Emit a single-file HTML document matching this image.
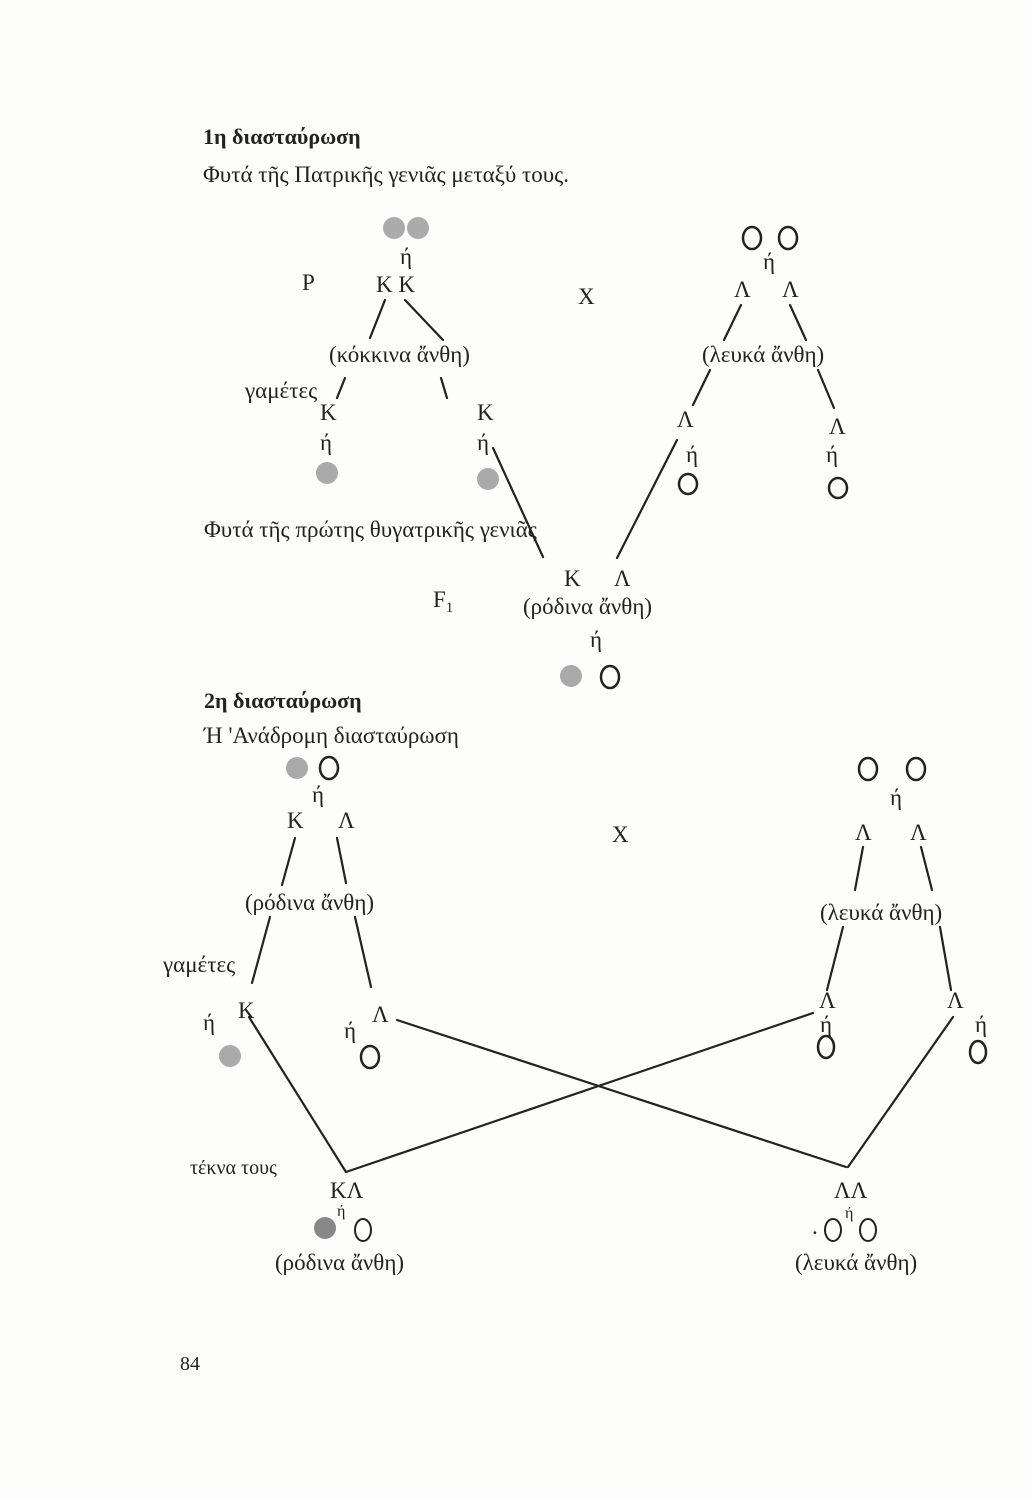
<!DOCTYPE html>
<html><head><meta charset="utf-8"><style>
html,body{margin:0;padding:0;background:#fff;}
svg{display:block}
text{font-family:"Liberation Serif","DejaVu Serif",serif;fill:#222;}
</style></head><body>
<svg width="1032" height="1500" viewBox="0 0 1032 1500" xmlns="http://www.w3.org/2000/svg">
<rect width="1032" height="1500" fill="#fdfdfc"/>
<g font-size="23">
<text x="203" y="144" font-weight="bold" font-size="22">1η διασταύρωση</text>
<text x="203" y="182">Φυτά τῆς Πατρικῆς γενιᾶς μεταξύ τους.</text>

<circle cx="394" cy="228" r="11" fill="#aaa"/>
<circle cx="418" cy="228" r="11" fill="#aaa"/>
<text x="400" y="264">ή</text>
<text x="302" y="290">P</text>
<text x="376" y="292">Κ Κ</text>
<text x="578" y="304">X</text>
<text x="329" y="362">(κόκκινα ἄνθη)</text>
<text x="245" y="398">γαμέτες</text>
<text x="320" y="420">Κ</text>
<text x="477" y="420">Κ</text>
<text x="320" y="450">ή</text>
<text x="477" y="450">ή</text>
<circle cx="327" cy="473" r="11" fill="#aaa"/>
<circle cx="488" cy="479" r="11" fill="#aaa"/>
<text x="204" y="537">Φυτά τῆς πρώτης θυγατρικῆς γενιᾶς</text>

<ellipse cx="752" cy="238" rx="9" ry="11" fill="none" stroke="#222" stroke-width="2.5"/>
<ellipse cx="788" cy="238" rx="9" ry="11" fill="none" stroke="#222" stroke-width="2.5"/>
<text x="763" y="269">ή</text>
<text x="734" y="297">Λ</text>
<text x="782" y="297">Λ</text>
<text x="702" y="362">(λευκά ἄνθη)</text>
<text x="677" y="427">Λ</text>
<text x="829" y="434">Λ</text>
<text x="686" y="462">ή</text>
<text x="826" y="462">ή</text>
<ellipse cx="688" cy="484" rx="9" ry="10" fill="none" stroke="#222" stroke-width="2.5"/>
<ellipse cx="838" cy="488" rx="9" ry="10" fill="none" stroke="#222" stroke-width="2.5"/>

<text x="564" y="586">Κ</text>
<text x="614" y="586">Λ</text>
<text x="433" y="607">F<tspan font-size="15" dy="5">1</tspan></text>
<text x="523" y="614">(ρόδινα ἄνθη)</text>
<text x="590" y="647">ή</text>
<circle cx="571" cy="676" r="11" fill="#aaa"/>
<ellipse cx="610" cy="677" rx="9" ry="11" fill="none" stroke="#222" stroke-width="2.5"/>

<text x="204" y="708" font-weight="bold" font-size="22">2η διασταύρωση</text>
<text x="204" y="743">Ή 'Ανάδρομη διασταύρωση</text>
<circle cx="297" cy="768" r="11" fill="#aaa"/>
<ellipse cx="329" cy="768" rx="9" ry="11" fill="none" stroke="#222" stroke-width="2.5"/>
<text x="312" y="802">ή</text>
<text x="287" y="828">Κ</text>
<text x="338" y="828">Λ</text>
<text x="612" y="842">X</text>
<text x="245" y="910">(ρόδινα ἄνθη)</text>
<text x="163" y="972">γαμέτες</text>
<text x="238" y="1018">Κ</text>
<text x="203" y="1030">ή</text>
<text x="372" y="1022">Λ</text>
<text x="344" y="1038">ή</text>
<circle cx="230" cy="1056" r="11" fill="#aaa"/>
<ellipse cx="370" cy="1057" rx="9" ry="11" fill="none" stroke="#222" stroke-width="2.5"/>

<ellipse cx="868" cy="769" rx="9" ry="11" fill="none" stroke="#222" stroke-width="2.5"/>
<ellipse cx="916" cy="769" rx="9" ry="11" fill="none" stroke="#222" stroke-width="2.5"/>
<text x="890" y="805">ή</text>
<text x="855" y="840">Λ</text>
<text x="910" y="840">Λ</text>
<text x="820" y="920">(λευκά ἄνθη)</text>
<text x="819" y="1008">Λ</text>
<text x="947" y="1008">Λ</text>
<text x="820" y="1032">ή</text>
<text x="975" y="1032">ή</text>
<ellipse cx="826" cy="1047" rx="8" ry="11" fill="none" stroke="#222" stroke-width="2.5"/>
<ellipse cx="978" cy="1052" rx="8" ry="11" fill="none" stroke="#222" stroke-width="2.5"/>

<text x="190" y="1174" font-size="20">τέκνα τους</text>
<text x="330" y="1198">ΚΛ</text>
<text x="337" y="1216" font-size="16">ή</text>
<circle cx="325" cy="1228" r="11" fill="#888"/>
<ellipse cx="363" cy="1230" rx="8" ry="11" fill="none" stroke="#222" stroke-width="2"/>
<text x="275" y="1270">(ρόδινα ἄνθη)</text>
<text x="834" y="1198">ΛΛ</text>
<text x="812" y="1234">.</text>
<ellipse cx="833" cy="1230" rx="8" ry="11" fill="none" stroke="#222" stroke-width="2"/>
<text x="845" y="1218" font-size="16">ή</text>
<ellipse cx="868" cy="1230" rx="8" ry="11" fill="none" stroke="#222" stroke-width="2"/>
<text x="795" y="1270">(λευκά ἄνθη)</text>
<text x="180" y="1370" font-size="20">84</text>
</g>

<g stroke="#222" stroke-width="2.2" fill="none" stroke-linecap="round">
<line x1="385" y1="300" x2="370" y2="338"/>
<line x1="405" y1="300" x2="443" y2="340"/>
<line x1="345" y1="378" x2="337" y2="398"/>
<line x1="441" y1="378" x2="447" y2="398"/>
<line x1="493" y1="448" x2="543" y2="557"/>
<line x1="741" y1="305" x2="724" y2="340"/>
<line x1="790" y1="305" x2="806" y2="340"/>
<line x1="710" y1="370" x2="693" y2="405"/>
<line x1="818" y1="370" x2="834" y2="408"/>
<line x1="677" y1="440" x2="617" y2="558"/>

<line x1="295" y1="838" x2="282" y2="885"/>
<line x1="337" y1="838" x2="346" y2="883"/>
<line x1="270" y1="917" x2="252" y2="983"/>
<line x1="355" y1="917" x2="371" y2="987"/>
<line x1="863" y1="847" x2="855" y2="890"/>
<line x1="921" y1="847" x2="932" y2="890"/>
<line x1="843" y1="927" x2="827" y2="990"/>
<line x1="940" y1="927" x2="951" y2="990"/>

<line x1="397" y1="1020" x2="846" y2="1167"/>
<line x1="813" y1="1013" x2="346" y2="1172"/>
<line x1="249" y1="1017" x2="346" y2="1172"/>
<line x1="953" y1="1017" x2="848" y2="1167"/>
</g>
</svg>
</body></html>
